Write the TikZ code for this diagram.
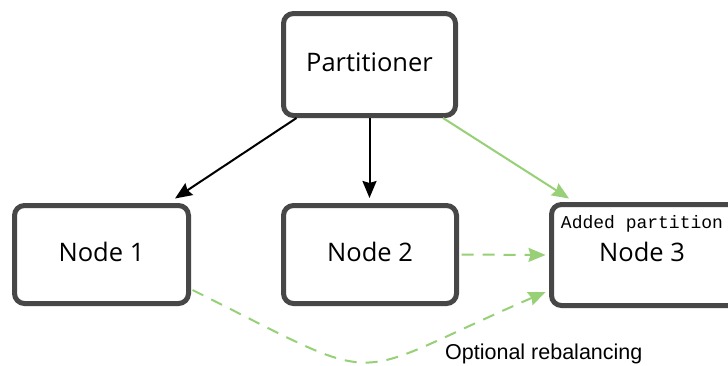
\documentclass[tikz,border=0pt]{standalone}
\usepackage{fontspec}
\setmainfont{Open Sans}
\newfontfamily\notefont{Liberation Sans}
\newfontfamily\codefont{Liberation Mono}
\usetikzlibrary{arrows.meta}

\definecolor{boxedge}{HTML}{474747}
\definecolor{addgreen}{HTML}{97D077}

\begin{document}
\begin{tikzpicture}[x=1pt, y=-1pt,
  box/.style={draw=boxedge, line width=5pt, rounded corners=10pt, fill=white, inner sep=0pt},
  boxlabel/.style={font=\fontsize{25.5}{30}\selectfont, anchor=base, inner sep=0pt},
  link/.style={line width=2pt, -{Stealth[length=17pt, width=14pt, inset=2pt]}},
  newlink/.style={link, draw=addgreen},
  movelink/.style={newlink, dash pattern=on 12pt off 9pt}
]
  % canvas
  \useasboundingbox (0,0) rectangle (728,365);
  \clip (0,0) rectangle (728,365);
  \fill[white] (0,0) rectangle (728,365);

  % boxes (the new node runs past the right margin)
  \node[box, minimum width=172pt, minimum height=102pt] (part) at (369.5,64.5) {};
  \node[box, minimum width=174pt, minimum height=98pt] (n1) at (101.5,254.5) {};
  \node[box, minimum width=173pt, minimum height=98pt] (n2) at (370,254.5) {};
  \node[box, minimum width=193.5pt, minimum height=101pt] (n3) at (648.25,255) {};

  % box labels
  \node[boxlabel] (partlbl) at ([yshift=-7.2pt]part.center) {Partitioner};
  \node[boxlabel] (n1lbl) at ([yshift=-6.8pt]n1.center) {Node 1};
  \node[boxlabel] (n2lbl) at ([yshift=-7pt]n2.center) {Node 2};
  \node[boxlabel] (n3lbl) at ([xshift=-6.25pt, yshift=-6pt]n3.center) {Node 3};
  \node[font=\codefont\fontsize{18}{20}\selectfont, anchor=base, inner sep=0pt]
    (added) at ([xshift=-6.25pt, yshift=27pt]n3.center) {Added partition};

  % existing partitions
  \draw[link] ([xshift=-73pt]part.south) -- ([xshift=73.5pt, yshift=4.5pt]n1.north);
  \draw[link] (part.south) -- ([yshift=5pt]part.south |- n2.north);

  % new partition and moved data
  \draw[newlink] ([xshift=73.5pt]part.south) -- ([yshift=3.5pt]569,0 |- n3.north);
  \draw[movelink] ([xshift=2.5pt]n2.east) -- ([xshift=-3.5pt]n3.west);
  \draw[movelink] ([xshift=1.5pt, yshift=-35.5pt]n1.east)
    .. controls +(201,100) and +(-206,89) .. ([xshift=-3.5pt, yshift=-37pt]n3.west);

  \node[font=\notefont\fontsize{21.5}{26}\selectfont, anchor=base west, inner sep=0pt]
    (rebal) at (445,359) {Optional rebalancing};
\end{tikzpicture}
\end{document}
